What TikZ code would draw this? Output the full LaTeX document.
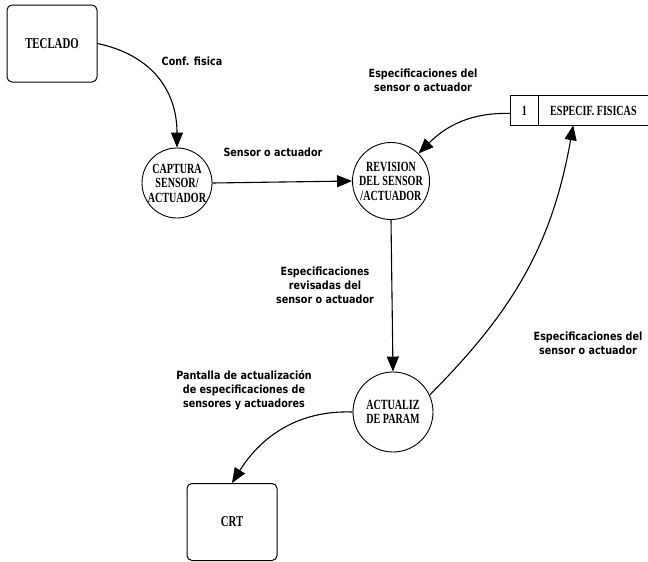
\documentclass[tikz,border=0pt]{standalone}
\usepackage{fontspec}
\newfontfamily\boxfont[FakeStretch=0.72]{Liberation Serif}
\newfontfamily\lblfont[FakeStretch=0.85]{DejaVu Sans}
\usetikzlibrary{arrows.meta}
\begin{document}
\begin{tikzpicture}[x=1pt,y=-1pt,
  ext/.style={draw, line width=1pt, rounded corners=5pt, minimum width=90pt, minimum height=77pt, inner sep=0pt, font=\boxfont\bfseries\fontsize{15}{17}\selectfont},
  proc/.style={draw, circle, line width=0.9pt, inner sep=0pt, align=center, font=\boxfont\bfseries\fontsize{14}{14.5}\selectfont},
  flow/.style={line width=1.1pt, -{Triangle[length=15pt,width=12pt]}},
  lbl/.style={font=\lblfont\bfseries\fontsize{11.3}{14}\selectfont, align=center, inner sep=0pt},
  storetxt/.style={minimum height=29pt, inner sep=0pt, font=\boxfont\bfseries\fontsize{14}{16}\selectfont}
]
\useasboundingbox (0,0) rectangle (648,562);

% external entities
\node[ext] (tec) at (52,43.5) {TECLADO};
\node[ext] (crt) at (232,522) {CRT};

% processes
\node[proc, minimum size=70pt] (cap) at (177,183) {CAPTURA\\SENSOR/\\ACTUADOR};
\node[proc, minimum size=77pt] (rev) at (391,181) {REVISION\\DEL SENSOR\\/ACTUADOR};
\node[proc, minimum size=80pt] (act) at (393,412) {ACTUALIZ\\DE PARAM};

% data store
\node[storetxt, minimum width=27pt] (num) at (524.5,110.5) {1};
\node[storetxt, minimum width=110pt, anchor=west] (st) at (num.east) {ESPECIF. FISICAS};
\draw[line width=0.9pt] (st.north east) -- (num.north west) -- (num.south west) -- (st.south east);
\draw[line width=0.9pt] (num.north east) -- (num.south east);

% flows
\draw[flow] (tec.east) to[out=-12, in=90, looseness=1.1] (cap.north);
\draw[flow] (cap.east) -- (rev.west);
\draw[flow] ([yshift=-3pt]num.west) to[out=178, in=45, looseness=1] (rev.45);
\draw[flow] (rev.south) -- (act.north);
\draw[flow] (act.25) to[out=45, in=-100, looseness=1] ([xshift=35pt]st.south west);
\draw[flow] (act.west) to[out=178, in=58, looseness=1] (crt.north);

% labels
\node[lbl] (l1) at (192,61) {Conf. fisica};
\node[lbl] (l2) at (273,152) {Sensor o actuador};
\node[lbl] (l3) at (423,80) {Especificaciones del\\sensor o actuador};
\node[lbl] (l4) at (325,285) {Especificaciones\\revisadas del\\sensor o actuador};
\node[lbl] (l5) at (588,343) {Especificaciones del\\sensor o actuador};
\node[lbl] (l6) at (244,390) {Pantalla de actualización\\de especificaciones de\\sensores y actuadores};
\end{tikzpicture}
\end{document}
